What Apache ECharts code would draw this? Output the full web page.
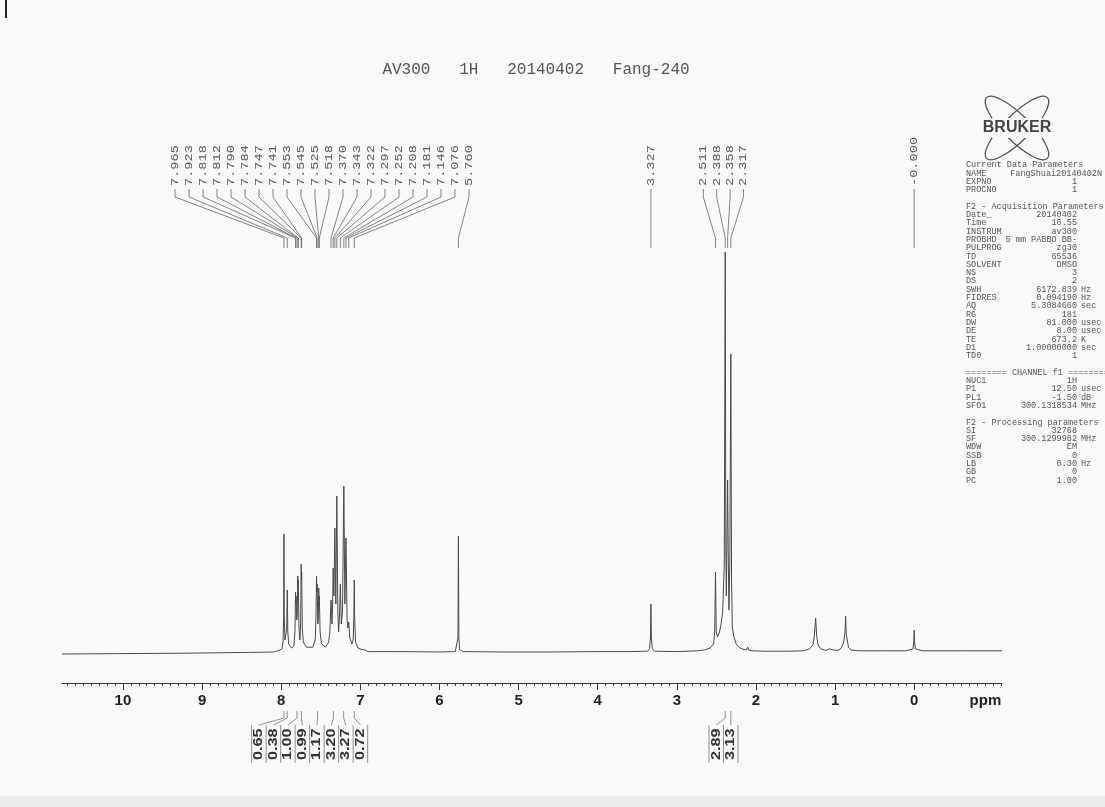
<!DOCTYPE html>
<html><head><meta charset="utf-8">
<script src="https://cdn.jsdelivr.net/npm/echarts@6/dist/echarts.min.js"></script>
<style>html,body{margin:0;padding:0;background:#f8f9f9;}#c{width:1105px;height:807px;}</style>
</head><body><div id="c"></div>
<script>
// ---------------- data ----------------
const titleText = 'AV300   1H   20140402   Fang-240';
const axisTickLabels = [10, 9, 8, 7, 6, 5, 4, 3, 2, 1, 0];
const axisMin = -1.11, axisMax = 10.77;

const peakLabelsGroupA = ['7.965','7.923','7.818','7.812','7.790','7.784','7.747','7.741','7.553','7.545','7.525','7.518','7.370','7.343','7.322','7.297','7.252','7.208','7.181','7.146','7.076','5.760'];
const peakLabelsGroupB = ['2.511','2.388','2.358','2.317'];
const peakLabelsSingleA = ['3.327'];
const peakLabelsSingleB = ['-0.000'];

const integralValuesA = ['0.65','0.38','1.00','0.99','1.17','3.20','3.27','0.72'];
const integralCentersA = [7.965, 7.923, 7.80, 7.745, 7.54, 7.34, 7.21, 7.076];
const integralValuesB = ['2.89','3.13'];
const integralCentersB = [2.388, 2.317];

// spectrum [ppm, intensity %]
const specLeft = [[10.77,-0.5],[10.4,-0.45],[10.0,-0.4],[9.6,-0.35],[9.2,-0.3],[8.8,-0.2],[8.4,-0.1],[8.1,0]];
const specAromatic = [[8.04,0.3],[7.99,0.8],[7.976,2.5],[7.969,9],[7.965,29.5],[7.961,9],[7.952,3],[7.940,2.5],[7.930,6],[7.923,15.5],[7.916,5],[7.905,2],[7.87,1],[7.840,1.5],[7.826,5],[7.818,15],[7.815,12],[7.812,14],[7.803,8],[7.797,9],[7.790,19],[7.787,16],[7.784,18],[7.775,6],[7.763,3],[7.754,7],[7.747,22],[7.744,18],[7.741,20],[7.733,6],[7.72,2.5],[7.68,1.2],[7.60,1.2],[7.570,3],[7.560,9],[7.553,19],[7.549,15],[7.545,17],[7.537,7],[7.531,8],[7.525,16],[7.521,13],[7.518,14],[7.508,5],[7.49,2],[7.44,1.2],[7.40,2.5],[7.385,5],[7.370,13],[7.358,7],[7.350,12],[7.343,21],[7.333,14],[7.322,31],[7.309,12],[7.297,39],[7.284,10],[7.274,5],[7.263,9],[7.252,17],[7.240,7],[7.225,10],[7.208,41.5],[7.195,12],[7.181,28.5],[7.167,8],[7.157,6],[7.146,7.5],[7.132,3.5],[7.105,2],[7.090,3],[7.081,9],[7.076,18],[7.071,8],[7.060,2.5],[7.03,1],[6.98,0.6]];
const specMiddle = [[6.94,0.5],[6.90,0.1],[6.5,0.1],[6.0,0],[5.80,0.1],[5.776,0.6],[5.766,3.5],[5.760,29],[5.754,3.5],[5.744,0.6],[5.70,0.1],[5.2,0],[4.6,0],[4.0,0.1],[3.6,0.1],[3.37,0.2],[3.345,0.8],[3.333,3.5],[3.327,12],[3.321,3.5],[3.309,0.8],[3.28,0.2],[3.0,0.1],[2.75,0.3]];
const specAliphatic = [[2.65,0.5],[2.58,1],[2.535,2],[2.521,5],[2.511,20],[2.501,5],[2.485,3.8],[2.46,5],[2.44,7],[2.42,10],[2.400,22],[2.388,100],[2.380,25],[2.374,14],[2.365,30],[2.358,43],[2.350,25],[2.341,10.5],[2.330,22],[2.317,74.5],[2.308,18],[2.298,6],[2.28,4],[2.25,2],[2.20,1],[2.15,0.6],[2.12,0.5],[2.105,1.2],[2.09,0.5],[2.05,0.3],[1.9,0.2],[1.6,0.2],[1.40,0.3],[1.32,0.8],[1.28,1.8],[1.262,4],[1.245,8.5],[1.232,4],[1.215,1.8],[1.18,0.8],[1.12,0.4],[1.07,0.8],[1.02,0.5],[0.96,0.4],[0.92,1],[0.89,2.5],[0.874,5],[0.866,9],[0.859,4.5],[0.852,5],[0.845,3],[0.83,1.2],[0.80,0.5],[0.70,0.3],[0.4,0.3],[0.1,0.3],[0.015,0.8],[0.005,2.5],[0.0,5.5],[-0.005,2.5],[-0.015,0.8],[-0.1,0.3],[-0.6,0.3],[-1.11,0.3]];

const paramRows = [
 ['Current Data Parameters','',''],
 ['NAME','FangShuai20140402N',''],
 ['EXPNO','1',''],
 ['PROCNO','1',''],
 ['','',''],
 ['F2 - Acquisition Parameters','',''],
 ['Date_','20140402',''],
 ['Time','16.55',''],
 ['INSTRUM','av300',''],
 ['PROBHD','5 mm PABBO BB-',''],
 ['PULPROG','zg30',''],
 ['TD','65536',''],
 ['SOLVENT','DMSO',''],
 ['NS','3',''],
 ['DS','2',''],
 ['SWH','6172.839','Hz'],
 ['FIDRES','0.094190','Hz'],
 ['AQ','5.3084660','sec'],
 ['RG','181',''],
 ['DW','81.000','usec'],
 ['DE','8.00','usec'],
 ['TE','673.2','K'],
 ['D1','1.00000000','sec'],
 ['TD0','1',''],
 ['','',''],
 ['======== CHANNEL f1 ========','',''],
 ['NUC1','1H',''],
 ['P1','12.50','usec'],
 ['PL1','-1.50','dB'],
 ['SFO1','300.1318534','MHz'],
 ['','',''],
 ['F2 - Processing parameters','',''],
 ['SI','32768',''],
 ['SF','300.1299982','MHz'],
 ['WDW','EM',''],
 ['SSB','0',''],
 ['LB','0.30','Hz'],
 ['GB','0',''],
 ['PC','1.00','']
];

// ---------------- chart ----------------
const spectrum = specLeft.concat(specAromatic, specMiddle, specAliphatic);
const minorTicks = [];
for (let k = Math.ceil(axisMin * 10); k <= Math.floor(axisMax * 10); k++) minorTicks.push(k / 10);

const chart = echarts.init(document.getElementById('c'), null, {renderer: 'canvas'});
const GRID = {left: 62, right: 103, top: 252, bottom: 124};
chart.setOption({
  animation: false,
  backgroundColor: '#f8f9f9',
  grid: [
    {left: GRID.left, right: GRID.right, top: GRID.top, bottom: GRID.bottom},
    {left: GRID.left, right: GRID.right, top: 807 - GRID.bottom - 4, bottom: GRID.bottom}
  ],
  xAxis: [
    {type: 'value', gridIndex: 0, min: axisMin, max: axisMax, inverse: true, position: 'bottom',
     axisLine: {show: true, onZero: false, lineStyle: {color: '#333', width: 1}},
     axisTick: {show: true, customValues: axisTickLabels, length: 7, lineStyle: {color: '#333', width: 1}},
     axisLabel: {show: true, customValues: axisTickLabels, margin: 10, color: '#222',
                 fontFamily: '"Liberation Sans", Arial, sans-serif', fontWeight: 'bold', fontSize: 15},
     splitLine: {show: false}},
    {type: 'value', gridIndex: 1, min: axisMin, max: axisMax, inverse: true, position: 'bottom',
     axisLine: {show: false},
     axisTick: {show: true, customValues: minorTicks, length: 3, lineStyle: {color: '#444', width: 1}},
     axisLabel: {show: false}, splitLine: {show: false}}
  ],
  yAxis: [
    {type: 'value', gridIndex: 0, min: -7.75, max: 100, show: false},
    {type: 'value', gridIndex: 1, min: 0, max: 1, show: false}
  ],
  series: [{
    type: 'line', xAxisIndex: 0, yAxisIndex: 0, data: spectrum, showSymbol: false, symbol: 'none',
    lineStyle: {color: '#4a4a4a', width: 1}, sampling: null, clip: false
  }]
});

function px(ppm, v) { return chart.convertToPixel({gridIndex: 0}, [ppm, v || 0]); }

const g = [];
const labelColor = '#5a5a5a';
// title
g.push({type: 'text', x: 536, y: 70, style: {text: titleText, font: '16px "Liberation Mono", monospace', fill: '#555', align: 'center', verticalAlign: 'middle'}});

// peak labels with leader lines
const labelGroups = [
  {labels: peakLabelsGroupA, centerPpm: 7.484, spacing: 14},
  {labels: peakLabelsGroupB, centerPpm: 2.411, spacing: 13.4},
  {labels: peakLabelsSingleA, centerPpm: 3.327, spacing: 0},
  {labels: peakLabelsSingleB, centerPpm: 0, spacing: 0}
];
const LBL_BOTTOM = 186, L1 = 189, L2 = 197, L3 = 238, L4 = 248;
labelGroups.forEach(gr => {
  const cx = px(gr.centerPpm)[0];
  const n = gr.labels.length;
  gr.labels.forEach((s, i) => {
    const xl = cx + (i - (n - 1) / 2) * gr.spacing;
    const xp = px(parseFloat(s))[0];
    g.push({type: 'text', x: xl, y: LBL_BOTTOM, rotation: Math.PI / 2, scaleX: 1.24,
      style: {text: s, font: '11px "Liberation Mono", monospace', fill: labelColor, align: 'left', verticalAlign: 'middle'}});
    g.push({type: 'polyline', shape: {points: [[xl, L1], [xl, L2], [xp, L3], [xp, L4]]},
      style: {stroke: '#666', lineWidth: 0.8, fill: null}});
  });
});

// integrals
const intGroups = [
  {vals: integralValuesA, centers: integralCentersA, centerPpm: 7.64, spacing: 14.5},
  {vals: integralValuesB, centers: integralCentersB, centerPpm: 2.41, spacing: 14.5}
];
const I_TOP = 711, I_MID = 718, BOX_TOP = 725, BOX_BOTTOM = 763, I_TEXT = 760;
intGroups.forEach(gr => {
  const cx = px(gr.centerPpm)[0];
  const n = gr.vals.length;
  for (let i = 0; i <= n; i++) {
    const xb = cx + (i - n / 2) * gr.spacing;
    g.push({type: 'line', shape: {x1: xb, y1: BOX_TOP, x2: xb, y2: BOX_BOTTOM}, style: {stroke: '#777', lineWidth: 0.8}});
  }
  gr.vals.forEach((s, i) => {
    const xl = cx + (i - (n - 1) / 2) * gr.spacing;
    const xr = px(gr.centers[i])[0];
    g.push({type: 'text', x: xl, y: I_TEXT, rotation: Math.PI / 2, scaleX: 1.35,
      style: {text: s, font: 'bold 12px "Liberation Sans", Arial, sans-serif', fill: '#333', align: 'left', verticalAlign: 'middle'}});
    g.push({type: 'polyline', shape: {points: [[xl, BOX_TOP], [xr, I_MID], [xr, I_TOP]]},
      style: {stroke: '#777', lineWidth: 0.8, fill: null}});
  });
});

// ppm unit
const pp = px(-0.9);
g.push({type: 'text', x: pp[0], y: 701, style: {text: 'ppm', font: 'bold 15px "Liberation Sans", Arial, sans-serif', fill: '#222', align: 'center', verticalAlign: 'middle'}});

// Bruker logo
const LX = 1017, LY = 128;
g.push({type: 'ellipse', x: LX, y: LY, rotation: Math.PI / 4, z: 100, shape: {cx: 0, cy: 0, rx: 43, ry: 13}, style: {fill: null, stroke: '#555', lineWidth: 1.3}});
g.push({type: 'ellipse', x: LX, y: LY, rotation: -Math.PI / 4, z: 100, shape: {cx: 0, cy: 0, rx: 43, ry: 13}, style: {fill: null, stroke: '#555', lineWidth: 1.3}});
g.push({type: 'rect', z: 101, shape: {x: LX - 33, y: LY - 10, width: 66, height: 20}, style: {fill: '#f8f9f9'}});
g.push({type: 'text', x: LX, y: LY, z: 102, style: {text: 'BRUKER', font: 'bold 16px "Liberation Sans", Arial, sans-serif', fill: '#444', align: 'center', verticalAlign: 'middle'}});

// parameter block
const P_X = 966, P_VAL = 1077, P_UNIT = 1081, P_RIGHT = 1102, P_Y0 = 165, P_DY = 8.3, CHW = 5.1;
const pFont = '8.5px "Liberation Mono", monospace';
paramRows.forEach((r, i) => {
  const y = P_Y0 + i * P_DY;
  if (r[0]) g.push({type: 'text', x: P_X, y: y, style: {text: r[0], font: pFont, fill: '#555', align: 'left', verticalAlign: 'middle'}});
  if (r[1]) {
    const labEnd = P_X + r[0].length * CHW + 4;
    const right = (P_VAL - r[1].length * CHW < labEnd) ? P_RIGHT : P_VAL;
    g.push({type: 'text', x: right, y: y, style: {text: r[1], font: pFont, fill: '#555', align: 'right', verticalAlign: 'middle'}});
  }
  if (r[2]) g.push({type: 'text', x: P_UNIT, y: y, style: {text: r[2], font: pFont, fill: '#555', align: 'left', verticalAlign: 'middle'}});
});

// scan edge details
g.push({type: 'line', shape: {x1: 6, y1: 0, x2: 6, y2: 18}, style: {stroke: '#222', lineWidth: 2}});
g.push({type: 'rect', shape: {x: 0, y: 796, width: 1105, height: 11}, style: {fill: '#ebecec'}});

chart.setOption({graphic: g});
</script></body></html>
